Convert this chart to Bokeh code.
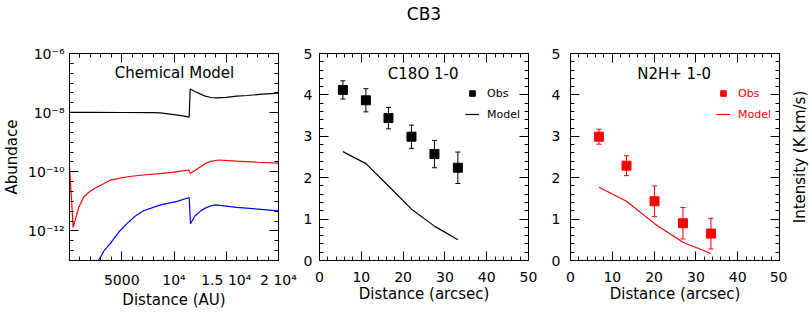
from bokeh.plotting import figure
from bokeh.layouts import row
from bokeh.models import (Range1d, FixedTicker, LinearAxis, LogAxis, Label,
                          ColumnDataSource, Legend, LegendItem)
from bokeh.embed import file_html
from bokeh.resources import INLINE

FONT = "DejaVu Sans"

# ---------------- data: chemical model (abundance vs distance in AU) ----------------
black_dist = [0, 2000, 5000, 8000, 8700, 10000, 11000, 11450, 11550, 12000, 12500, 13000,
              13500, 14000, 15000, 16000, 17000, 18500, 20000]
black_abund = [1.02e-8, 1.02e-8, 1.01e-8, 1.0e-8, 9.8e-9, 8.6e-9, 7.6e-9, 7.1e-9, 6.3e-8,
               5.2e-8, 4.3e-8, 3.6e-8, 3.25e-8, 3.15e-8, 3.3e-8, 3.6e-8, 3.8e-8, 4.2e-8,
               4.6e-8]

red_dist = [0, 150, 350, 574, 890, 1340, 1820, 2300, 3900, 5550, 7000, 8700, 10000, 11400,
            11580, 12000, 12500, 13000, 13500, 14260, 16000, 18000, 20000]
red_abund = [1.45e-10, 2.2e-11, 1.3e-12, 2.5e-12, 6.3e-12, 1.35e-11, 2.0e-11, 2.6e-11,
             5.2e-11, 6.8e-11, 7.8e-11, 8.7e-11, 9.8e-11, 1.15e-10, 8.9e-11, 1.1e-10,
             1.45e-10, 1.9e-10, 2.25e-10, 2.5e-10, 2.3e-10, 2.1e-10, 1.95e-10]

blue_dist = [2740, 2970, 3290, 3900, 4700, 5520, 6300, 7080, 8700, 10300, 11450, 11580,
             12000, 12500, 13000, 13500, 14000, 16000, 18000, 20000]
blue_abund = [1.0e-13, 1.3e-13, 2.1e-13, 3.7e-13, 9.0e-13, 1.8e-12, 3.2e-12, 4.8e-12,
              7.6e-12, 1.0e-11, 1.35e-11, 1.75e-12, 3.2e-12, 4.6e-12, 5.9e-12, 7.0e-12,
              7.6e-12, 6.3e-12, 5.5e-12, 4.8e-12]

x1_ticks = [5000, 10000, 15000, 20000]
x1_labels = ["5000", "10⁴", "1.5 10⁴", "2 10⁴"]
y1_ticks = [1e-12, 1e-10, 1e-8, 1e-6]
y1_labels = ["10⁻¹²", "10⁻¹⁰", "10⁻⁸", "10⁻⁶"]

# ---------------- data: C18O 1-0 ----------------
c18o_dist = [5.6, 11.1, 16.5, 22.0, 27.5, 33.1]
c18o_obs = [4.12, 3.87, 3.44, 2.99, 2.57, 2.24]
c18o_err = [0.22, 0.28, 0.26, 0.28, 0.33, 0.38]
c18o_model = [2.63, 2.34, 1.80, 1.24, 0.83, 0.50]

# ---------------- data: N2H+ 1-0 ----------------
n2h_dist = [6.8, 13.4, 20.1, 26.9, 33.6]
n2h_obs = [2.99, 2.29, 1.43, 0.90, 0.65]
n2h_err = [0.18, 0.24, 0.37, 0.38, 0.37]
n2h_model = [1.77, 1.43, 0.89, 0.44, 0.17]

lin_ticks = [0, 10, 20, 30, 40, 50]
lin_minor = list(range(0, 51, 2))
int_ticks = [0, 1, 2, 3, 4, 5]
int_minor = [i / 5 for i in range(26)]


def style_axis(ax, ticks=None, size="14px", standoff=5):
    ax.major_tick_in = 9
    ax.major_tick_out = 0
    ax.minor_tick_in = 4
    ax.minor_tick_out = 0
    ax.major_tick_line_color = "black"
    ax.minor_tick_line_color = "black"
    ax.axis_line_color = "black"
    ax.major_label_text_font = FONT
    ax.major_label_text_color = "black"
    ax.axis_label_text_font = FONT
    ax.axis_label_text_font_size = "15px"
    ax.axis_label_text_font_style = "normal"
    ax.axis_label_text_color = "black"
    if ticks is None:
        ax.major_label_text_font_size = size
        ax.major_label_standoff = standoff
    else:
        # mirror axis: ticks only, no labels
        ax.major_label_overrides = {t: "" for t in ticks}
        ax.major_label_text_font_size = "1px"
        ax.major_label_standoff = 0


def base_fig(width, xr, yr, bl, br, y_type="linear"):
    p = figure(width=width, height=312, x_range=xr, y_range=yr, y_axis_type=y_type,
               output_backend="svg", toolbar_location=None,
               min_border_left=bl, min_border_right=br, min_border_top=52,
               min_border_bottom=52)
    p.xgrid.visible = False
    p.ygrid.visible = False
    p.outline_line_color = "black"
    p.outline_line_width = 1
    p.background_fill_color = "white"
    p.border_fill_color = "white"
    return p


# ================= panel 1 =================
p1 = base_fig(298, Range1d(0, 20000), Range1d(1e-13, 1e-6), 69, 20, "log")
x1_minor = list(range(0, 20001, 1000))
y1_minor = [10 ** (-13 + k / 3) for k in range(22)]
p1.xaxis.ticker = FixedTicker(ticks=x1_ticks, minor_ticks=x1_minor)
p1.yaxis.ticker = FixedTicker(ticks=y1_ticks, minor_ticks=y1_minor)
p1.xaxis.major_label_overrides = dict(zip(x1_ticks, x1_labels))
p1.yaxis.major_label_overrides = dict(zip(y1_ticks, y1_labels))
p1.xaxis.axis_label = "Distance (AU)"
p1.yaxis.axis_label = "Abundace"
style_axis(p1.xaxis[0], standoff=11)
style_axis(p1.yaxis[0], standoff=5)
p1.xaxis.axis_label_standoff = 0
p1.yaxis.axis_label_standoff = 4
top1 = LinearAxis(ticker=FixedTicker(ticks=x1_ticks, minor_ticks=x1_minor))
style_axis(top1, ticks=x1_ticks)
p1.add_layout(top1, "above")
right1 = LogAxis(ticker=FixedTicker(ticks=y1_ticks, minor_ticks=y1_minor))
style_axis(right1, ticks=y1_ticks)
p1.add_layout(right1, "right")

p1.line(black_dist, black_abund, line_color="black", line_width=1.2)
p1.line(red_dist, red_abund, line_color="red", line_width=1.2)
p1.line(blue_dist, blue_abund, line_color="blue", line_width=1.2)
p1.add_layout(Label(x=10050, y=10 ** -6.67, text="Chemical Model", text_align="center",
                    text_baseline="middle", text_font=FONT, text_font_size="15px",
                    text_color="black"))


# ================= panels 2 and 3 =================
def line_panel(width, bl, br, dist, obs, err, model, color, title, top_title=None):
    p = base_fig(width, Range1d(0, 50), Range1d(0, 5), bl, br)
    p.xaxis.ticker = FixedTicker(ticks=lin_ticks, minor_ticks=lin_minor)
    p.yaxis.ticker = FixedTicker(ticks=int_ticks, minor_ticks=int_minor)
    p.xaxis.axis_label = "Distance (arcsec)"
    style_axis(p.xaxis[0], standoff=11)
    style_axis(p.yaxis[0], standoff=7 if bl < 22 else 10)
    p.xaxis.axis_label_standoff = 0
    top = LinearAxis(ticker=FixedTicker(ticks=lin_ticks, minor_ticks=lin_minor))
    style_axis(top, ticks=lin_ticks)
    if top_title:
        # overall figure title, carried by the top mirror axis
        top.axis_label = top_title
        top.axis_label_text_font_size = "17px"
        top.axis_label_standoff = 30
    p.add_layout(top, "above")
    right = LinearAxis(ticker=FixedTicker(ticks=int_ticks, minor_ticks=int_minor))
    style_axis(right, ticks=int_ticks)
    p.add_layout(right, "right")

    src = ColumnDataSource(dict(x=dist, y=obs,
                                upper=[o + e for o, e in zip(obs, err)],
                                lower=[o - e for o, e in zip(obs, err)],
                                m=model))
    p.segment(x0="x", y0="lower", x1="x", y1="upper", source=src, line_color=color,
              line_width=1)
    p.scatter("x", "upper", source=src, marker="dash", size=5, line_color=color)
    p.scatter("x", "lower", source=src, marker="dash", size=5, line_color=color)
    sq = p.scatter("x", "y", source=src, marker="square", size=9, fill_color=color,
                   line_color=color)
    ln = p.line("x", "m", source=src, line_color=color, line_width=1.2)
    leg = Legend(items=[LegendItem(label="Obs", renderers=[sq]),
                        LegendItem(label="Model", renderers=[ln])],
                 location=(146, 138), border_line_color=None, background_fill_alpha=0,
                 label_text_font=FONT, label_text_font_size="11px",
                 label_text_color=color, glyph_width=14, glyph_height=16,
                 label_height=16, spacing=5, padding=1, margin=0, label_standoff=8)
    p.add_layout(leg)
    p.add_layout(Label(x=24.8, y=4.5, text=title, text_align="center",
                       text_baseline="middle", text_font=FONT, text_font_size="15px",
                       text_color="black"))
    return p


p2 = line_panel(250, 21, 20, c18o_dist, c18o_obs, c18o_err, c18o_model, "black",
                "C18O 1-0", top_title="CB3")
p3 = line_panel(239, 22, 8, n2h_dist, n2h_obs, n2h_err, n2h_model, "red", "N2H+ 1-0")

# narrow strip carrying the shared intensity axis title (reads bottom-to-top)
p4 = figure(width=22, height=312, x_range=Range1d(0, 1), y_range=Range1d(0, 5),
            output_backend="svg", toolbar_location=None, min_border_left=21,
            min_border_right=0, min_border_top=52, min_border_bottom=52)
p4.xgrid.visible = False
p4.ygrid.visible = False
p4.xaxis.visible = False
p4.outline_line_color = None
p4.background_fill_color = "white"
p4.border_fill_color = "white"
ya = p4.yaxis[0]
ya.ticker = FixedTicker(ticks=[])
ya.major_tick_line_color = None
ya.minor_tick_line_color = None
ya.axis_line_color = None
ya.major_label_text_font_size = "1px"
ya.major_label_standoff = 0
ya.axis_label = "Intensity (K km/s)"
ya.axis_label_text_font = FONT
ya.axis_label_text_font_size = "15px"
ya.axis_label_text_font_style = "normal"
ya.axis_label_text_color = "black"
ya.axis_label_standoff = 0

layout = row(p1, p2, p3, p4)
open("out.html", "w").write(file_html(layout, INLINE))
